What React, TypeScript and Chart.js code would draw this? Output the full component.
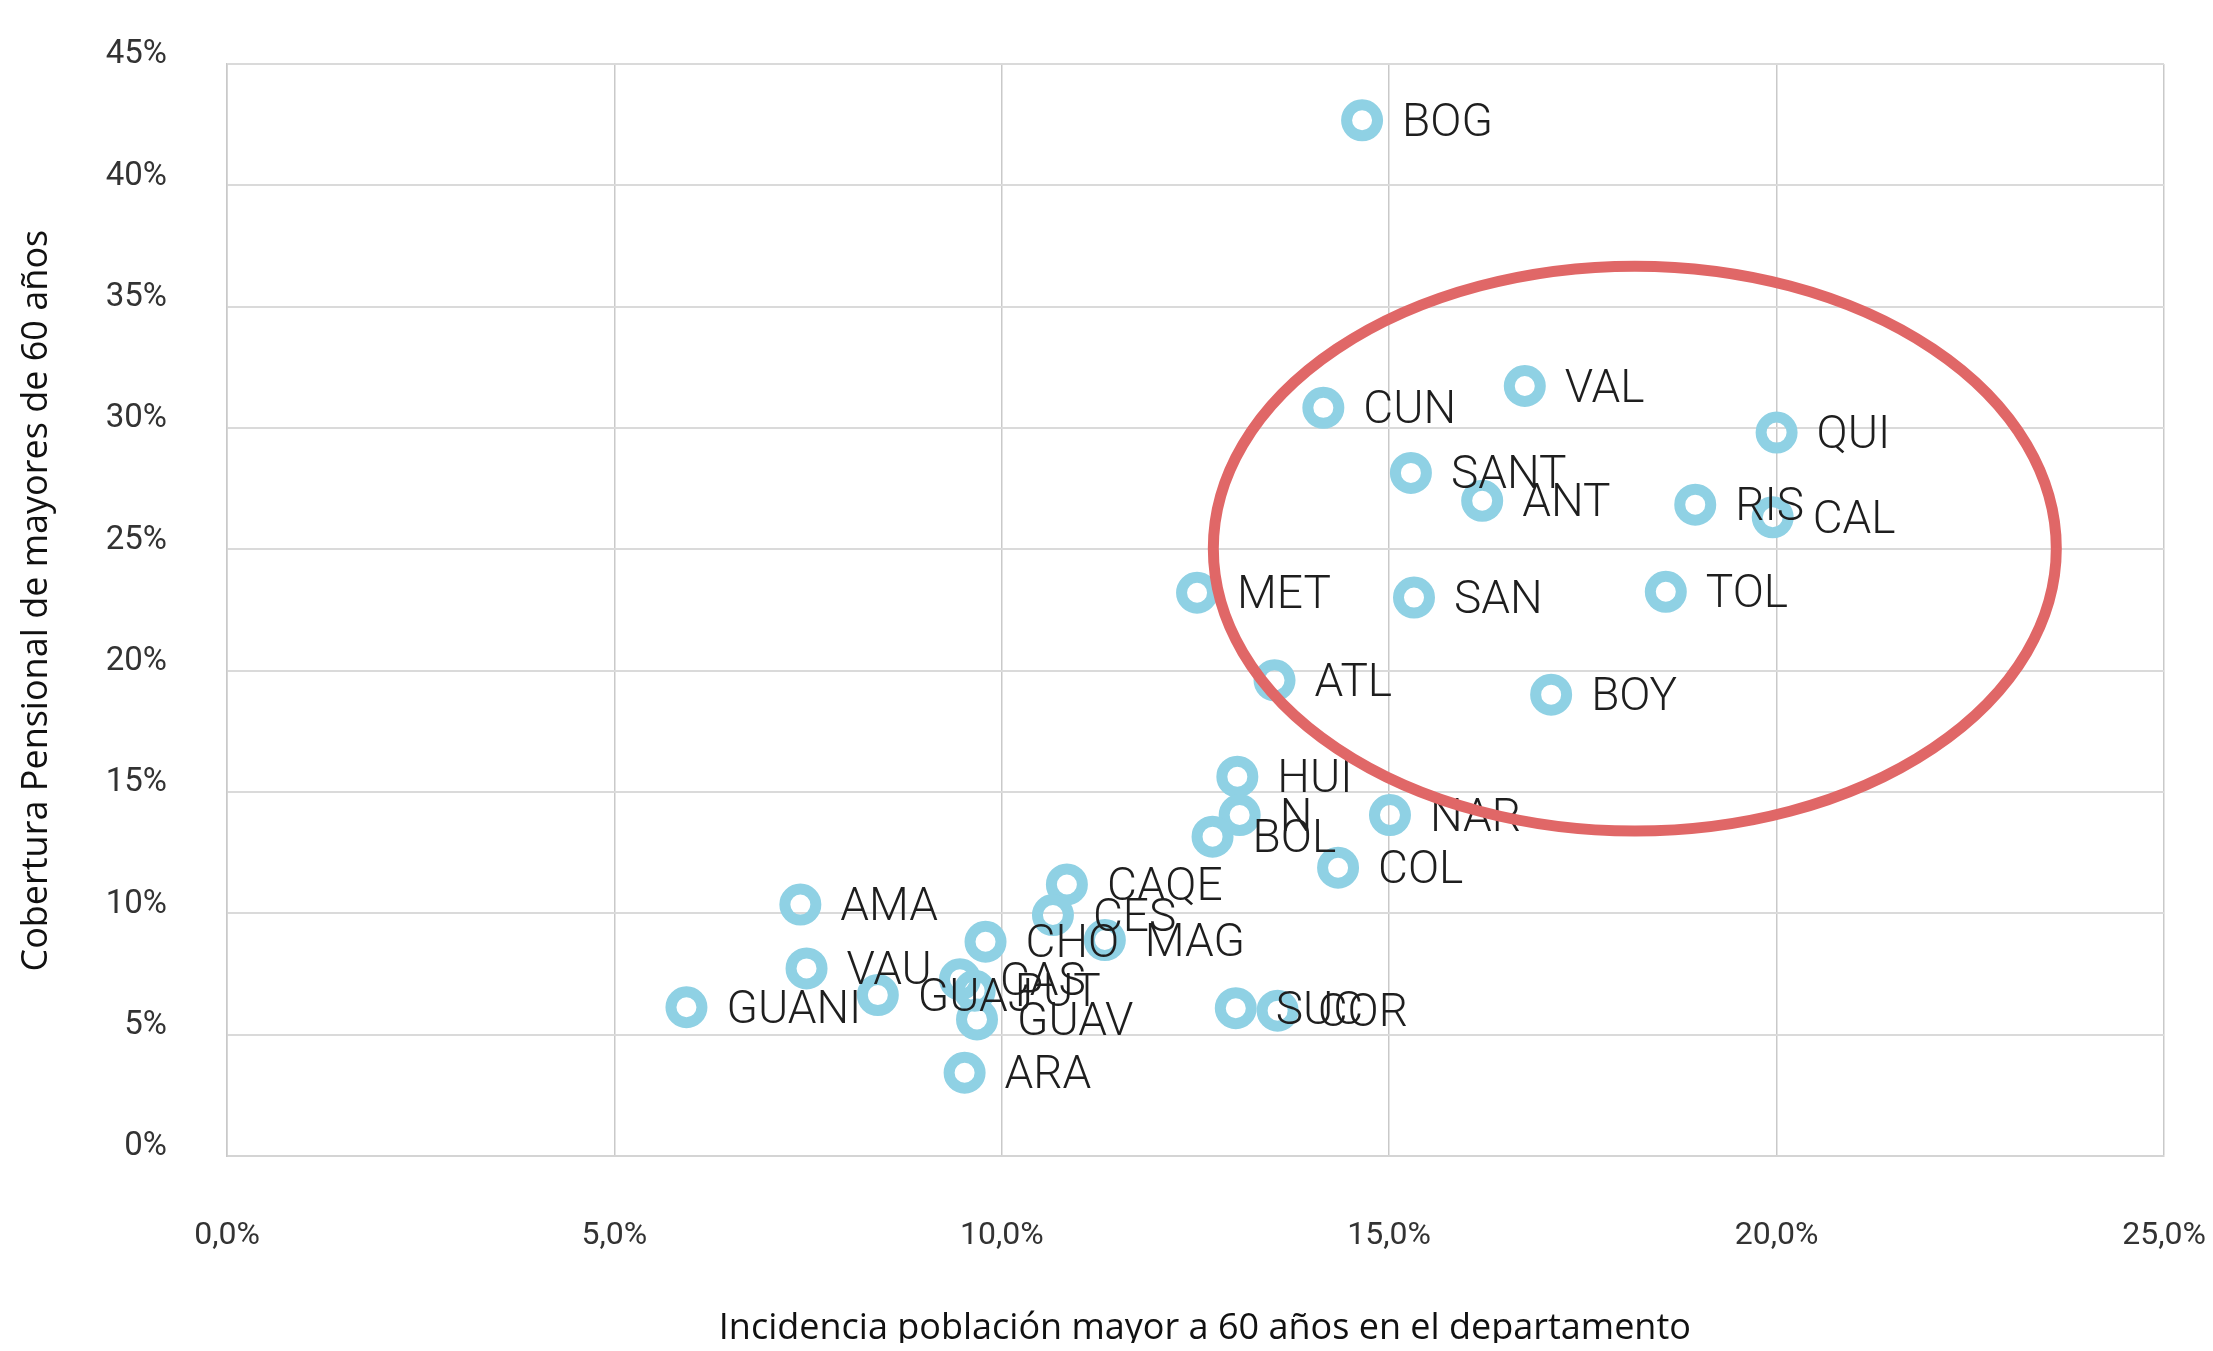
import React, { useEffect, useRef } from 'react';
import { Chart, registerables } from 'chart.js';

Chart.register(...registerables);

// Department codes
const departamentos = ['BOG', 'CUN', 'VAL', 'QUI', 'SANT', 'ANT', 'RIS', 'CAL', 'MET', 'SAN', 'TOL', 'ATL', 'BOY', 'HUI', 'N', 'BOL', 'NAR', 'COL', 'CAQE', 'CES', 'CHO', 'MAG', 'AMA', 'VAU', 'GUANI', 'GUAJ', 'CAS', 'PUT', 'GUAV', 'ARA', 'SUC', 'COR'];
// Incidencia población mayor a 60 años (%)
const incidencia = [14.65, 14.15, 16.75, 20.0, 15.28, 16.2, 18.95, 19.95, 12.52, 15.32, 18.57, 13.52, 17.09, 13.04, 13.07, 12.72, 15.01, 14.34, 10.84, 10.66, 9.79, 11.33, 7.4, 7.48, 5.93, 8.4, 9.46, 9.65, 9.68, 9.52, 13.02, 13.56];
// Cobertura pensional de mayores de 60 años (%)
const cobertura = [42.68, 30.83, 31.73, 29.81, 28.15, 27.0, 26.84, 26.32, 23.21, 23.01, 23.25, 19.6, 19.01, 15.63, 14.05, 13.16, 14.05, 11.88, 11.19, 9.93, 8.83, 8.9, 10.36, 7.73, 6.13, 6.63, 7.28, 6.81, 5.63, 3.43, 6.09, 5.99];

const xTicks = [0, 5, 10, 15, 20, 25];
const yTicks = [0, 5, 10, 15, 20, 25, 30, 35, 40, 45];

// Highlight ellipse in data units (center x, center y, radius x, radius y)
const ellipseCenter = [18.17, 25.03];
const ellipseRadii = [5.44, 11.64];

const xTitle = '  Incidencia población mayor a 60 años en el departamento';
const yTitle = '  Cobertura Pensional de mayores de 60 años';

const pointLabelPlugin = {
  id: 'pointLabels',
  afterDatasetsDraw(chart: any) {
    const { ctx } = chart;
    const meta = chart.getDatasetMeta(0);
    ctx.save();
    ctx.font = '300 46px Roboto';
    ctx.fillStyle = '#1e1e1e';
    ctx.textAlign = 'left';
    ctx.textBaseline = 'middle';
    meta.data.forEach((el: any, i: number) => {
      ctx.fillText(departamentos[i], el.x + 40, el.y + 4);
    });
    ctx.restore();
  },
};

const ellipsePlugin = {
  id: 'highlightEllipse',
  afterDraw(chart: any) {
    const { ctx, scales } = chart;
    const xs = scales.x;
    const ys = scales.y;
    const cx = xs.getPixelForValue(ellipseCenter[0]);
    const cy = ys.getPixelForValue(ellipseCenter[1]);
    const rx = Math.abs(xs.getPixelForValue(ellipseCenter[0] + ellipseRadii[0]) - cx);
    const ry = Math.abs(ys.getPixelForValue(ellipseCenter[1] + ellipseRadii[1]) - cy);
    ctx.save();
    ctx.beginPath();
    ctx.ellipse(cx, cy, rx, ry, 0, 0, Math.PI * 2);
    ctx.strokeStyle = '#e06767';
    ctx.lineWidth = 11;
    ctx.stroke();
    ctx.restore();
  },
};

export default function App() {
  const canvasRef = useRef<HTMLCanvasElement | null>(null);

  useEffect(() => {
    if (!canvasRef.current) return;
    const chart = new Chart(canvasRef.current, {
      type: 'scatter',
      data: {
        datasets: [
          {
            label: 'Departamentos',
            data: incidencia.map((x, i) => ({ x, y: cobertura[i] })),
            pointRadius: 15.5,
            pointHoverRadius: 15.5,
            pointBorderWidth: 11,
            pointHoverBorderWidth: 11,
            borderColor: '#8fd1e4',
            backgroundColor: 'rgba(0,0,0,0)',
          },
        ],
      },
      options: {
        responsive: true,
        maintainAspectRatio: false,
        animation: false,
        layout: { padding: { top: 56, right: 41, bottom: 0, left: 0 } },
        plugins: {
          legend: { display: false },
          tooltip: { enabled: false },
        },
        scales: {
          x: {
            type: 'linear',
            min: xTicks[0],
            max: xTicks[xTicks.length - 1],
            afterBuildTicks: (scale: any) => {
              scale.ticks = xTicks.map((v) => ({ value: v }));
            },
            afterFit: (scale: any) => {
              scale.height = 195;
              scale.paddingLeft = 0;
              scale.paddingRight = 0;
              scale.paddingTop = 0;
              scale.paddingBottom = 0;
            },
            grid: { color: '#c9c9c9', lineWidth: 1.5, drawTicks: false },
            border: { display: true, color: '#d4d4d4', width: 2 },
            ticks: {
              padding: 61,
              color: '#333',
              font: { family: 'Roboto', size: 32 },
              callback: (v: any) => Number(v).toFixed(1).replace('.', ',') + '%',
            },
            title: {
              display: true,
              text: xTitle,
              color: '#111',
              font: { family: 'Open Sans', size: 36, lineHeight: 1 },
              padding: { top: 0, bottom: 4 },
            },
          },
          y: {
            type: 'linear',
            min: yTicks[0],
            max: yTicks[yTicks.length - 1],
            afterBuildTicks: (scale: any) => {
              scale.ticks = yTicks.map((v) => ({ value: v }));
            },
            afterFit: (scale: any) => {
              scale.width = 219;
              scale.paddingLeft = 0;
              scale.paddingRight = 0;
              scale.paddingTop = 0;
              scale.paddingBottom = 0;
            },
            grid: { color: '#dadada', lineWidth: 2, drawTicks: false },
            border: { display: true, color: '#c9c9c9', width: 1.5 },
            ticks: {
              padding: 60,
              labelOffset: -9,
              color: '#333',
              font: { family: 'Roboto', size: 33 },
              callback: (v: any) => v + '%',
            },
            title: {
              display: true,
              text: yTitle,
              color: '#111',
              font: { family: 'Open Sans', size: 36, lineHeight: 1 },
              padding: { top: 11, bottom: 0 },
            },
          },
        },
      },
      plugins: [pointLabelPlugin, ellipsePlugin],
    });
    return () => chart.destroy();
  }, []);

  return (
    <div style={{ position: 'relative', width: 2197, height: 1343, marginBottom: -8 }}>
      <canvas ref={canvasRef} />
    </div>
  );
}
